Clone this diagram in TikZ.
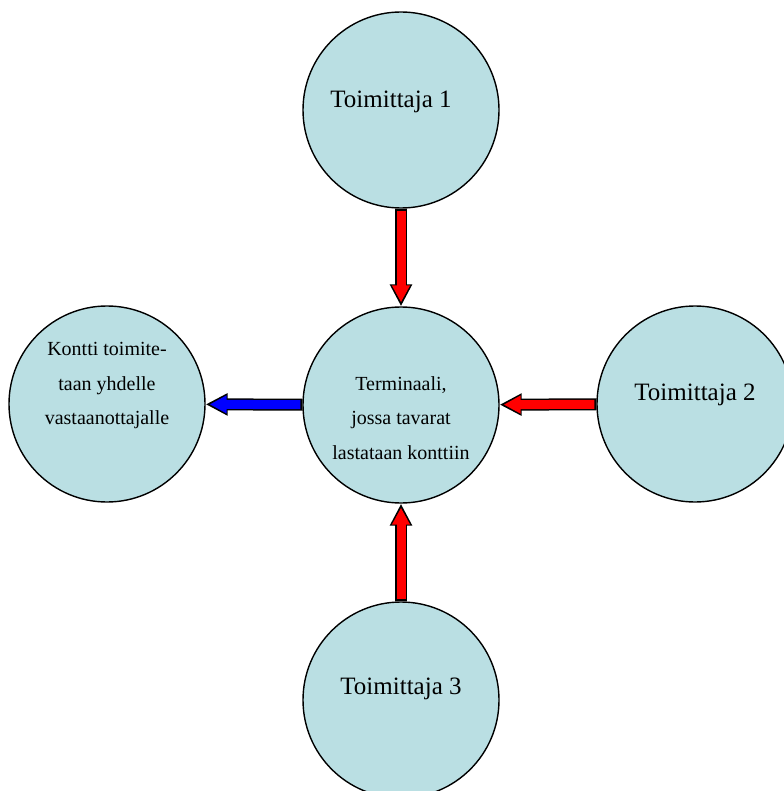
\documentclass[tikz,border=0pt]{standalone}
\usepackage{fontspec}
\setmainfont{Liberation Serif}
\usetikzlibrary{arrows.meta,calc}
\definecolor{circfill}{RGB}{186,223,227}

\begin{document}
\begin{tikzpicture}[x=1pt, y=-1pt,
    place/.style={circle, draw, line width=1.4pt, fill=circfill, minimum size=196pt, inner sep=0pt},
    bigtxt/.style={font=\fontsize{25}{30}\selectfont},
    smalltxt/.style={align=center, font=\fontsize{20}{34.5}\selectfont},
    flow/.style={preaction={draw=black, line width=12pt, -{Triangle[length=22pt,width=21pt]}, shorten >=0pt, shorten <=0pt},
                 draw=#1, line width=9pt, -{Triangle[length=17pt,width=17pt]}, shorten >=4pt, shorten <=2pt}]
    \useasboundingbox (0,0) rectangle (783,791);

    \node[place] (hub) at (401,405) {};
    \node[place] (t1) at (401,110) {};
    \node[place] (t2) at (695,404) {};
    \node[place] (t3) at (401,700) {};
    \node[place] (recv) at (107,404) {};

    \node[smalltxt] (hubtxt) at ($(hub)+(0,13)$) {Terminaali,\\jossa tavarat\\lastataan konttiin};
    \node[bigtxt] (t1txt) at ($(t1)+(-10,-8)$) {Toimittaja 1};
    \node[bigtxt] (t2txt) at ($(t2)+(0,-9)$) {Toimittaja 2};
    \node[bigtxt] (t3txt) at ($(t3)+(0,-11)$) {Toimittaja 3};
    \node[smalltxt] (recvtxt) at ($(recv)+(0,-18)$) {Kontti toimite-\\taan yhdelle\\vastaanottajalle};

    \draw[flow=red] (t1) -- (hub);
    \draw[flow=red] (t2) -- (hub);
    \draw[flow=red] (t3) -- (hub);
    \draw[flow=blue] (hub) -- (recv);
\end{tikzpicture}
\end{document}
